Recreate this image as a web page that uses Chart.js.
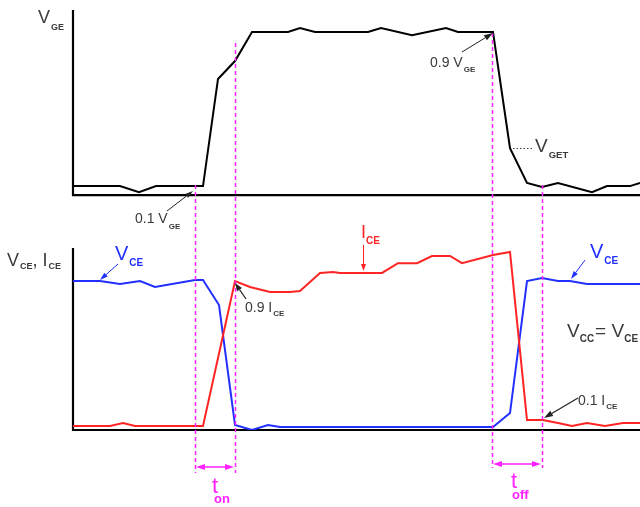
<!DOCTYPE html>
<html><head><meta charset="utf-8">
<script src="https://cdn.jsdelivr.net/npm/chart.js@4"></script>
<style>html,body{margin:0;padding:0;background:#fff;overflow:hidden}#wrap{width:640px;height:507px;position:relative}</style>
</head><body><div id="wrap"><canvas id="c" width="640" height="507"></canvas></div>
<script>
// ---- data (time in arbitrary units, values in % of full level) ----
const timeVGE = [0, 47, 66, 83, 130, 145, 162, 179, 215, 227, 242, 295, 308, 339, 373, 385, 420, 437, 454, 469, 485, 519, 534, 557, 567];
const valVGE  = [5.5, 5.5, 1.8, 5.5, 5.5, 71.2, 82.2, 100, 100, 102.4, 100, 100, 102.4, 98.1, 102.4, 100, 100, 28.8, 7.4, 4.9, 7.4, 1.8, 5.5, 5.5, 7.4];

const timeVCE = [0, 27, 47, 67, 82, 122, 130, 146, 162, 179, 195, 207, 420, 437, 454, 469, 485, 497, 514, 567];
const valVCE  = [100, 100, 98, 100, 96, 100.7, 100.7, 83.9, 3.4, 0, 3.4, 2.0, 2.0, 11.4, 100, 102, 100, 100, 98, 98];

const timeICE = [0, 37, 50, 62, 130, 162, 177, 197, 217, 227, 247, 260, 267, 309, 325, 344, 359, 377, 389, 420, 437, 454, 470, 485, 499, 514, 532, 550, 567];
const valICE  = [2.7, 2.7, 4.7, 2.7, 2.7, 100, 96, 92.6, 92.6, 93.3, 105.4, 106, 105.4, 105.4, 112, 112, 116.8, 116.8, 112, 117.4, 119.5, 6.7, 6.7, 4.7, 2.7, 4.7, 2.7, 4.7, 4.7];

const markerTimes = [122, 162, 419, 469];   // 0.1/0.9 crossing instants
const timeMax = 567;

const pts = (t, v) => t.map((ti, i) => ({x: ti, y: v[i]}));

const BLUE = '#2230ff', RED = '#ff2424', MAG = '#ff22ff', TXT = '#3a3a3a';

function rich(ctx, x, y, parts, color) {
  ctx.fillStyle = color; ctx.textBaseline = 'alphabetic'; ctx.textAlign = 'left';
  let cx = x;
  for (const p of parts) {
    ctx.font = (p.b ? 'bold ' : '') + p.s + 'px "Liberation Sans", Arial, sans-serif';
    const px = p.x !== undefined ? x + p.x : cx;
    ctx.fillText(p.t, px, y + (p.dy || 0));
    cx = px + ctx.measureText(p.t).width + (p.g || 0);
  }
}
function arrow(ctx, x1, y1, x2, y2, color, lw, hl, hw) {
  ctx.strokeStyle = color; ctx.fillStyle = color; ctx.lineWidth = lw; ctx.setLineDash([]);
  const a = Math.atan2(y2 - y1, x2 - x1);
  const bx = x2 - hl * Math.cos(a), by = y2 - hl * Math.sin(a);
  ctx.beginPath(); ctx.moveTo(x1, y1); ctx.lineTo(bx, by); ctx.stroke();
  ctx.beginPath(); ctx.moveTo(x2, y2);
  ctx.lineTo(bx + hw / 2 * Math.sin(a), by - hw / 2 * Math.cos(a));
  ctx.lineTo(bx - hw / 2 * Math.sin(a), by + hw / 2 * Math.cos(a));
  ctx.closePath(); ctx.fill();
}

const annot = {
  id: 'annot',
  beforeDatasetsDraw(chart) {
    const {ctx, scales: {x, yG, yC}} = chart;
    const x0 = x.getPixelForValue(0), x1 = x.getPixelForValue(timeMax);
    ctx.save();
    ctx.strokeStyle = '#000'; ctx.lineWidth = 2.2; ctx.lineJoin = 'miter'; ctx.lineCap = 'butt';
    ctx.beginPath();
    ctx.moveTo(x0, yG.getPixelForValue(113.5)); ctx.lineTo(x0, yG.getPixelForValue(0)); ctx.lineTo(x1 + 2, yG.getPixelForValue(0));
    ctx.stroke();
    ctx.beginPath();
    ctx.moveTo(x0, yC.getPixelForValue(122.1)); ctx.lineTo(x0, yC.getPixelForValue(0)); ctx.lineTo(x1 + 2, yC.getPixelForValue(0));
    ctx.stroke();
    ctx.restore();
  },
  afterDatasetsDraw(chart) {
    const {ctx, scales: {x}} = chart;
    ctx.save();
    // magenta dashed markers
    const spans = [[185, 473], [43, 473], [33, 468], [185, 468]];
    ctx.strokeStyle = MAG; ctx.lineWidth = 1.5; ctx.setLineDash([4, 3]);
    markerTimes.forEach((t, i) => {
      const px = Math.round(x.getPixelForValue(t)) + 0.5;
      ctx.beginPath(); ctx.moveTo(px, spans[i][0]); ctx.lineTo(px, spans[i][1]); ctx.stroke();
    });
    ctx.setLineDash([]);
    // t_on / t_off double arrows
    const ton0 = x.getPixelForValue(markerTimes[0]) + 1, ton1 = x.getPixelForValue(markerTimes[1]) - 1;
    arrow(ctx, (ton0 + ton1) / 2, 467, ton0, 467, MAG, 1.5, 9, 6);
    arrow(ctx, (ton0 + ton1) / 2, 467, ton1, 467, MAG, 1.5, 9, 6);
    const tof0 = x.getPixelForValue(markerTimes[2]) + 1, tof1 = x.getPixelForValue(markerTimes[3]) - 1;
    arrow(ctx, (tof0 + tof1) / 2, 464, tof0, 464, MAG, 1.5, 9, 6);
    arrow(ctx, (tof0 + tof1) / 2, 464, tof1, 464, MAG, 1.5, 9, 6);
    rich(ctx, 212, 493, [{t: 't', s: 22}], MAG);
    rich(ctx, 214, 503, [{t: 'on', s: 13, b: true}], MAG);
    rich(ctx, 511, 488, [{t: 't', s: 22}], MAG);
    rich(ctx, 512, 499, [{t: 'off', s: 13, b: true}], MAG);

    // V_GE axis title
    rich(ctx, 38, 23, [{t: 'V', s: 18, g: 1}, {t: 'GE', s: 9, b: true, dy: 7}], TXT);
    // 0.1 V_GE
    rich(ctx, 135, 223, [{t: '0.1 V', s: 14, g: 1}, {t: 'GE', s: 8, b: true, dy: 6}], TXT);
    arrow(ctx, 167, 211, 193, 191, '#222', 1, 8, 5);
    // 0.9 V_GE
    rich(ctx, 430, 67, [{t: '0.9 V', s: 14, g: 1}, {t: 'GE', s: 8, b: true, dy: 5}], TXT);
    arrow(ctx, 462, 52, 493, 33, '#222', 1, 9, 6);
    // V_GET
    ctx.strokeStyle = '#444'; ctx.lineWidth = 1; ctx.setLineDash([1.5, 2]);
    ctx.beginPath(); ctx.moveTo(513, 148.5); ctx.lineTo(534, 148.5); ctx.stroke(); ctx.setLineDash([]);
    rich(ctx, 535, 152, [{t: 'V', s: 19, g: 1}, {t: 'GET', s: 9.5, b: true, dy: 6}], TXT);

    // V_CE, I_CE axis title
    rich(ctx, 7, 266, [{t: 'V', s: 18, g: 1}, {t: 'CE', s: 9, b: true, dy: 3}, {t: ', I', s: 18, g: 1}, {t: 'CE', s: 9, b: true, dy: 3}], TXT);
    // left V_CE label
    rich(ctx, 115, 260, [{t: 'V', s: 20, g: 1}, {t: 'CE', s: 10, b: true, dy: 6}], BLUE);
    arrow(ctx, 118, 264, 100, 280, BLUE, 1, 8, 5);
    // I_CE label
    rich(ctx, 361, 238, [{t: 'I', s: 18}], RED);
    rich(ctx, 366, 244, [{t: 'CE', s: 10, b: true}], RED);
    arrow(ctx, 363.5, 245, 363.5, 271, RED, 1, 7, 5);
    // 0.9 I_CE
    rich(ctx, 245, 312, [{t: '0.9 I', s: 14, g: 1}, {t: 'CE', s: 8, b: true, dy: 4}], TXT);
    arrow(ctx, 246, 299, 235, 283, '#222', 1.2, 8, 6);
    // right V_CE label
    rich(ctx, 590, 258, [{t: 'V', s: 20, g: 1}, {t: 'CE', s: 10, b: true, dy: 6}], BLUE);
    arrow(ctx, 585, 260, 571, 279, BLUE, 1, 8, 5);
    // V_CC = V_CE
    rich(ctx, 567, 337, [{t: 'V', s: 19, g: 0}, {t: 'CC', s: 10, b: true, dy: 5, g: 1}, {t: '= V', s: 19, g: 0}, {t: 'CE', s: 10, b: true, dy: 5}], TXT);
    // 0.1 I_CE
    rich(ctx, 578, 405, [{t: '0.1 I', s: 14, g: 1}, {t: 'CE', s: 8, b: true, dy: 4}], TXT);
    arrow(ctx, 578, 398, 544, 418, '#222', 1.2, 9, 6);
    ctx.restore();
  }
};

new Chart(document.getElementById('c'), {
  type: 'line',
  data: {
    datasets: [
      {label: 'VGE', data: pts(timeVGE, valVGE), yAxisID: 'yG', borderColor: '#000', borderWidth: 2},
      {label: 'ICE', data: pts(timeICE, valICE), yAxisID: 'yC', borderColor: RED, borderWidth: 2},
      {label: 'VCE', data: pts(timeVCE, valVCE), yAxisID: 'yC', borderColor: BLUE, borderWidth: 2}
    ]
  },
  options: {
    responsive: false, animation: false,
    elements: {point: {radius: 0}, line: {tension: 0, fill: false}},
    layout: {padding: {left: 73, right: 0, top: 10, bottom: 77}},
    plugins: {legend: {display: false}, tooltip: {enabled: false}},
    scales: {
      x: {type: 'linear', min: 0, max: timeMax, display: false},
      yG: {type: 'linear', min: -144.1, max: 113.5, display: false},
      yC: {type: 'linear', min: 0, max: 281.9, display: false}
    }
  },
  plugins: [annot]
});
</script></body></html>
